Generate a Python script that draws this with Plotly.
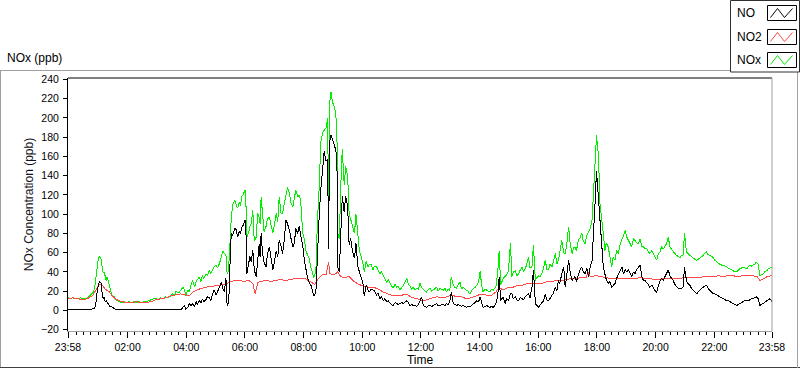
import plotly.graph_objects as go

# ---------------- data (minutes after 23:58 start) ----------------
t_nox = [0,5,10,15,20,25,30,35,40,44,48,52,55,57,60,62,64,66,68,70,72,74,76,78,80,83,86,88,91,95,98,
         105,110,115,120,125,130,135,140,145,150,155,160,165,170,175,180,185,190,195,200,205,210,214,218,
         221,225,228,232,235,238,241,245,248,252,255,259,262,265,268,272,275,278,282,285,289,292,296,299,
         303,306,310,314,317,320,323,325,327,330,332,334,337,341,344,347,350,353,355,358,362,364,366,369,
         372,375,378,381,385,388,391,393,395,398,401,405,408,412,415,419,422,426,429,432,436,439,442,446,
         449,453,456,460,463,466,470,473,476,480,484,487,490,493,497,500,503,507,510,514,517,521,524,528,
         531,533,535,538,541,544,547,550,552,555,558,561,565,568,572,575,578,582,586,589,593,596,600,603,
         606,610,613,616,620,624,627,631,634,638,641,645,648,652,655,659,662,665,669,672,676,679,683,686,
         690,693,696,699,703,706,710,713,717,720,723,727,730,733,737,740,744,747,751,754,757,761,764,768,
         771,774,778,781,784,788,791,795,798,802,805,808,812,815,818,822,826,829,833,836,840,843,846,849,
         853,856,860,863,866,870,873,876,879,882,885,888,890,894,897,901,905,908,911,915,918,922,925,929,
         932,935,938,942,945,949,952,956,959,963,966,969,973,976,980,983,986,990,993,997,1000,1003,1006,
         1010,1014,1017,1020,1024,1027,1031,1034,1037,1040,1044,1047,1051,1054,1058,1061,1065,1068,1072,
         1075,1078,1081,1083,1085,1088,1092,1095,1098,1101,1105,1108,1112,1115,1119,1122,1126,1129,1133,
         1136,1140,1143,1146,1150,1153,1157,1160,1163,1167,1170,1174,1177,1180,1184,1187,1190,1194,1197,
         1200,1204,1207,1211,1214,1218,1221,1224,1228,1231,1235,1238,1241,1245,1248,1252,1255,1258,1261,
         1263,1265,1268,1272,1275,1279,1282,1286,1289,1292,1296,1299,1302,1306,1309,1313,1316,1320,1323,
         1327,1330,1333,1337,1340,1344,1347,1351,1354,1358,1361,1364,1368,1371,1374,1378,1381,1384,1388,
         1391,1395,1398,1401,1405,1408,1412,1415,1418,1422,1425,1429,1432,1436,1440]

no_ppb = [1,0.5,1,0.5,1,0.5,1,0.5,1,1,1,1.5,3,7,21,26,30,29,28,17,12,14,9,10,8,6,4,4,3,2,1,
          0.5,0.5,0.5,0.5,0.5,0.5,0.5,0.5,0.5,0.5,0.5,0.5,1,0.5,0.5,1,0.5,0.5,1,0.5,1,0.5,1,0.5,
          1,0.5,1,1,3,5,1,3,7,5,7,4,9,6,10,8,12,9,11,14,13,10,17,21,
          16,20,24,29,22,19,34,8,5,20,60,80,78,85,84,76,82,79,86,88,94,80,38,48,
          56,50,63,42,35,52,69,55,80,59,50,45,58,66,55,42,50,62,55,73,66,59,72,94,
          90,83,75,66,70,85,80,88,78,68,50,40,34,29,26,20,15,19,60,100,125,150,165,155,
          157,64,175,182,178,172,168,160,44,40,90,119,102,119,108,68,75,61,54,70,45,40,35,29,
          15,26,22,19,22,21,20,16,18,12,14,10,12,9,10,7,6,5,8,7,6,7,8,7,
          9,10,8,5,6,5,5,4,6,10,14,5,4,3,5,5,4,5,6,7,5,5,6,6,
          5,7,6,9,19,7,6,5,6,5,4,5,4,3,4,4,5,7,8,10,9,14,8,3,
          4,5,4,3,4,3,5,8,15,35,10,12,14,7,12,10,17,17,12,14,11,10,13,12,
          11,14,15,17,13,24,42,7,5,3,6,8,10,17,10,10,12,15,18,24,20,31,28,
          38,45,24,35,52,40,31,33,35,30,38,42,45,40,38,44,35,45,52,
          90,111,145,130,111,87,59,45,38,32,28,30,24,26,28,33,38,40,45,
          38,42,40,42,38,35,40,38,42,45,47,35,31,31,29,27,24,26,24,
          21,19,25,31,33,31,35,38,42,36,33,31,27,24,23,22,23,24,45,
          35,31,28,26,23,21,19,17,19,21,23,24,25,26,23,21,19,17,17,
          16,15,14,13,12,11,10,10,9,8,7,6,5,6,7,8,9,10,10,
          10,11,12,12,13,14,12,5,6,7,8,10,11,12,9]

nox_ppb = [13,12,13,12,12,13,12,12,13,15,17,19,25,34,50,54,56,55,53,44,39,40,35,31,35,28,24,19,15,14,11,
           9,8,9,8,9,8,9,8,9,8,9,9,10,11,12,12,11,13,12,14,13,15,17,16,
           20,18,19,22,24,22,15,21,19,27,31,24,30,32,35,30,36,33,38,36,42,38,43,45,
           47,44,49,56,62,59,58,40,38,55,85,97,110,114,110,106,112,109,118,120,125,110,76,80,
           87,90,104,72,76,101,97,90,118,94,82,87,95,97,90,80,88,101,92,118,100,101,110,121,
           128,121,112,108,115,125,118,120,113,81,72,61,58,54,44,40,34,40,90,130,175,185,187,190,
           200,110,215,227,216,213,206,190,80,74,130,168,130,150,140,100,95,88,80,100,75,62,55,50,
           40,51,45,47,48,42,46,46,42,38,40,35,33,29,32,28,25,23,27,24,25,21,24,26,
           30,33,27,26,22,24,21,23,22,28,24,21,20,19,22,23,20,21,23,24,20,23,22,21,
           23,19,22,21,35,26,24,23,27,29,22,24,22,21,20,17,21,23,24,26,30,41,26,19,
           22,21,20,19,22,21,23,26,40,62,26,30,33,35,37,41,70,35,40,41,36,38,42,45,
           40,43,47,55,44,45,68,31,34,36,35,38,44,52,42,42,48,45,50,59,48,52,60,
           73,60,59,68,87,70,59,65,66,62,73,75,80,72,69,78,83,85,94,
           128,156,182,170,163,111,94,80,62,70,66,58,45,55,52,62,59,68,73,
           78,83,76,73,70,66,75,73,70,69,74,66,66,64,64,61,59,62,59,
           55,52,58,61,66,64,67,69,76,66,63,61,59,57,56,55,57,57,80,
           66,61,59,57,56,54,53,52,53,54,56,57,59,61,58,57,56,55,52,
           50,49,48,47,47,46,45,44,43,42,41,40,40,42,43,44,45,44,43,
           45,47,46,47,48,50,48,36,37,38,40,41,43,44,45]

t_no2 = [0,10,20,30,40,45,50,55,60,64,68,72,76,80,85,90,95,100,110,120,130,140,150,160,170,180,190,200,
         210,220,230,240,248,256,268,282,296,310,320,330,340,350,360,370,378,383,388,395,405,415,425,435,
         445,455,465,475,485,495,505,512,520,528,533,536,545,552,558,565,575,585,595,605,615,625,635,645,
         655,665,675,685,695,705,715,725,735,745,755,765,775,785,795,805,815,825,835,845,855,865,875,882,
         890,900,910,920,930,940,950,960,970,980,990,1000,1010,1020,1030,1040,1050,1060,1064,1068,1080,
         1090,1100,1110,1120,1130,1140,1150,1160,1170,1180,1190,1200,1210,1220,1230,1240,1250,1260,1270,
         1280,1290,1300,1310,1320,1330,1340,1350,1360,1370,1380,1390,1400,1410,1415,1420,1430,1440]

no2_ppb = [12,13,12,11,12,14,15,19,23,27,26,25,22,21,19,15,13,11,9,8,8,9,8,8,9,11,12,13,
           15,16,17,16,15,19,22,24,25,26,27,29,31,31,30,31,28,17,29,30,31,30,31,32,
           31,32,33,33,33,30,27,33,37,37,50,38,37,40,35,34,35,30,27,25,24,24,22,19,
           17,15,15,16,16,13,12,10,11,13,14,13,14,16,14,14,12,13,15,17,16,15,19,24,
           21,24,24,26,26,28,28,28,28,30,30,31,31,32,33,33,34,34,40,35,36,
           35,34,33,33,33,33,33,33,34,33,33,32,32,33,33,33,33,34,34,
           34,34,35,35,35,36,35,36,36,35,36,36,36,35,31,32,35,36]

tick_vals = [0, 122, 242, 362, 482, 602, 722, 842, 962, 1082, 1202, 1322, 1440]
tick_text = ["23:58", "02:00", "04:00", "06:00", "08:00", "10:00", "12:00",
             "14:00", "16:00", "18:00", "20:00", "22:00", "23:58"]
legend_names = ["NO", "NO2", "NOx"]
colors = ["#000000", "#ff4848", "#00f000"]

# ---------------- figure ----------------
W, H = 800, 369
L, R, T, B = 68, 28, 78, 38
PW, PH = W - L - R, H - T - B
FONT = "Liberation Sans, Arial, sans-serif"

def px(x):
    return (x - L) / PW

def py(y):
    return (H - B - y) / PH

fig = go.Figure()
fig.add_trace(go.Scatter(x=t_nox, y=nox_ppb, mode="lines", name=legend_names[2],
                         line=dict(color=colors[2], width=1), showlegend=False))
fig.add_trace(go.Scatter(x=t_no2, y=no2_ppb, mode="lines", name=legend_names[1],
                         line=dict(color=colors[1], width=1), showlegend=False))
fig.add_trace(go.Scatter(x=t_nox, y=no_ppb, mode="lines", name=legend_names[0],
                         line=dict(color=colors[0], width=1), showlegend=False))

shapes = []
# plot frame: top black, right gray
shapes.append(dict(type="line", xref="paper", yref="paper", x0=0, x1=1, y0=1, y1=1,
                   line=dict(color="#000000", width=1)))
shapes.append(dict(type="line", xref="paper", yref="paper", x0=1, x1=1, y0=0, y1=1,
                   line=dict(color="#a0a0a0", width=1)))
# outer frame
shapes.append(dict(type="line", xref="paper", yref="paper", x0=px(0.5), x1=px(0.5), y0=py(70), y1=py(368),
                   line=dict(color="#a0a0a0", width=1)))
shapes.append(dict(type="line", xref="paper", yref="paper", x0=px(0), x1=px(730), y0=py(70.5), y1=py(70.5),
                   line=dict(color="#a0a0a0", width=1)))
shapes.append(dict(type="line", xref="paper", yref="paper", x0=px(0), x1=px(800), y0=py(367.5), y1=py(367.5),
                   line=dict(color="#404040", width=1)))
shapes.append(dict(type="line", xref="paper", yref="paper", x0=px(797.5), x1=px(797.5), y0=py(72), y1=py(368),
                   line=dict(color="#a0a0a0", width=1)))
# legend box
shapes.append(dict(type="rect", xref="paper", yref="paper", x0=px(730.5), x1=px(799.5), y0=py(72), y1=py(0.5),
                   line=dict(color="#303030", width=1), fillcolor="white"))
annotations = []
rows = [13, 37, 60]
for name, col, yc in zip(legend_names, colors, rows):
    annotations.append(dict(text=name, xref="paper", yref="paper", x=px(735), y=py(yc),
                            xanchor="left", yanchor="middle", showarrow=False,
                            font=dict(family=FONT, size=12, color="#000")))
    bx0, bx1, by0, by1 = 767.5, 796.5, yc - 7.5, yc + 7.5
    shapes.append(dict(type="rect", xref="paper", yref="paper", x0=px(bx0), x1=px(bx1),
                       y0=py(by1), y1=py(by0), line=dict(color="#000", width=1), fillcolor="white"))
    pts = [(bx0 + 3, by1 - 3), (bx0 + 10, by0 + 3), (bx0 + 17, by1 - 3), (bx0 + 25, by0 + 3)]
    path = "M " + " L ".join(f"{px(a):.5f},{py(b):.5f}" for a, b in pts)
    shapes.append(dict(type="path", xref="paper", yref="paper", path=path,
                       line=dict(color=col, width=1)))

annotations.append(dict(text="NOx (ppb)", xref="paper", yref="paper", x=px(5), y=py(58),
                        xanchor="left", yanchor="middle", showarrow=False,
                        font=dict(family=FONT, size=12, color="#000")))

fig.update_layout(
    width=W, height=H,
    margin=dict(l=L, r=R, t=T, b=B, pad=0, autoexpand=False),
    paper_bgcolor="white", plot_bgcolor="white",
    font=dict(family=FONT, size=11, color="#000"),
    shapes=shapes, annotations=annotations,
    showlegend=False,
    xaxis=dict(range=[0, 1440], tickmode="array", tickvals=tick_vals, ticktext=tick_text,
               automargin=False,
               showgrid=False, zeroline=False, showline=True, linecolor="#a0a0a0", linewidth=1,
               ticks="outside", ticklen=6, tickcolor="#000", tickwidth=1,
               tickfont=dict(family=FONT, size=10.5, color="#000"),
               minor=dict(tick0=2, dtick=15, ticks="outside", ticklen=3, tickcolor="#000", showgrid=False),
               title=dict(text="Time", standoff=3, font=dict(family=FONT, size=12, color="#000"))),
    yaxis=dict(range=[-21.5, 241.5], tickmode="array", tickvals=list(range(-20, 241, 20)),
               automargin=False,
               showgrid=False, zeroline=False, showline=True, linecolor="#000", linewidth=1,
               ticks="outside", ticklen=4, tickcolor="#000",
               ticklabelstandoff=2,
               tickfont=dict(family=FONT, size=10.5, color="#000"),
               title=dict(text="NOx Concentration (ppb)", standoff=4,
                          font=dict(family=FONT, size=12, color="#101020"))),
)

post = ("document.body.style.margin='0';document.body.style.overflow='hidden';"
        "document.querySelectorAll('.scatterlayer path.js-line').forEach(function(p){"
        "p.style.shapeRendering='crispEdges';});")
fig.write_html("out.html", config={"displayModeBar": False}, post_script=post)
